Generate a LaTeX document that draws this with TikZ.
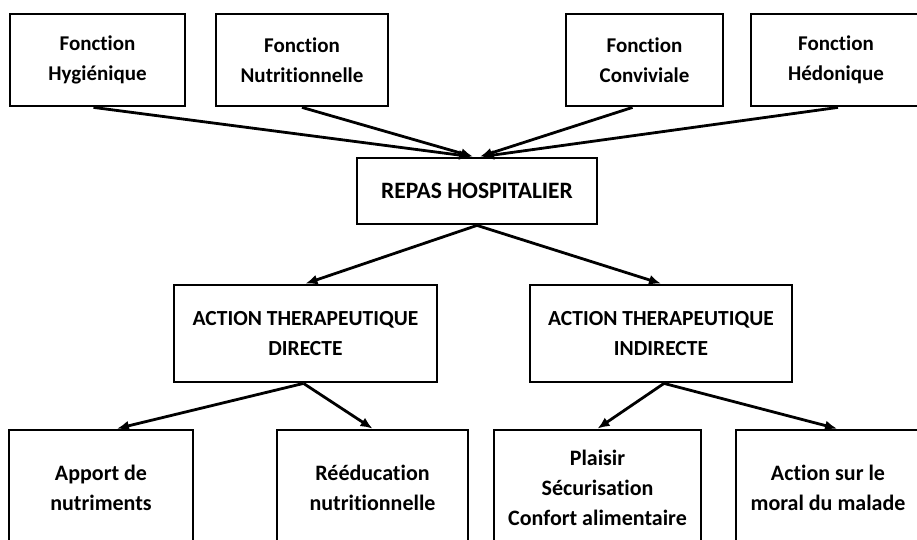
\documentclass[tikz,border=0pt]{standalone}
\usepackage{fontspec}
\setmainfont{Carlito}[Ligatures={NoCommon}]
\usetikzlibrary{arrows.meta}
\tikzset{
  box/.style={draw, line width=2.8pt, fill=white, align=center, inner sep=0pt,
    font=\fontsize{21.5}{30}\selectfont\bfseries},
  topbox/.style={box, minimum height=92pt, font=\fontsize{21}{30}\selectfont\bfseries},
  midbox/.style={box, minimum height=97pt},
  lowbox/.style={box, minimum height=116pt, font=\fontsize{22}{30}\selectfont\bfseries},
  link/.style={line width=2.8pt, -{Latex[length=12pt,width=10pt]}}
}
\begin{document}
\begin{tikzpicture}[x=1pt,y=-1pt]
  \clip (0,0) rectangle (917,540);
  \fill[white] (0,0) rectangle (917,540);
  % functions of the meal
  \node[topbox, minimum width=175pt] (hyg) at (97.5,60) {Fonction\\Hygiénique};
  \node[topbox, minimum width=172pt] (nut) at (302,60) {Fonction\\Nutritionnelle};
  \node[topbox, minimum width=157pt] (conv) at (644.5,60) {Fonction\\Conviviale};
  \node[topbox, minimum width=170pt] (hed) at (836,60) {Fonction\\Hédonique};
  % central node
  \node[box, minimum width=240pt, minimum height=66pt,
        font=\fontsize{23.5}{30}\selectfont\bfseries] (repas) at (477,191) {REPAS HOSPITALIER};
  % therapeutic actions
  \node[midbox, minimum width=263pt] (dir) at (305.5,333.5) {ACTION THERAPEUTIQUE\\DIRECTE};
  \node[midbox, minimum width=262pt] (ind) at (661,333.5) {ACTION THERAPEUTIQUE\\INDIRECTE};
  % effects
  \node[lowbox, minimum width=184pt] (b1) at (101,488) {Apport de\\nutriments};
  \node[lowbox, minimum width=191pt] (b2) at (372.5,488) {Rééducation\\nutritionnelle};
  \node[lowbox, minimum width=207pt] (b3) at (597.5,488) {Plaisir\\Sécurisation\\Confort alimentaire};
  \node[lowbox, minimum width=184pt] (b4) at (828,488) {Action sur le\\moral du malade};
  % connectors
  \draw[link] ([xshift=-4pt]hyg.south) -- ([xshift=-6pt]repas.north);
  \draw[link] (nut.south) -- ([xshift=-4pt]repas.north);
  \draw[link] ([xshift=-12pt]conv.south) -- ([xshift=3pt]repas.north);
  \draw[link] ([xshift=2pt]hed.south) -- ([xshift=5pt]repas.north);
  \draw[link] (repas.south) -- (dir.north);
  \draw[link] (repas.south) -- (ind.north);
  \draw[link] ([xshift=-2pt]dir.south) -- ([xshift=16pt]b1.north);
  \draw[link] ([xshift=-2pt]dir.south) -- (b2.north);
  \draw[link] ([xshift=3pt]ind.south) -- (b3.north);
  \draw[link] ([xshift=3pt]ind.south) -- ([xshift=9pt]b4.north);
\end{tikzpicture}
\end{document}
